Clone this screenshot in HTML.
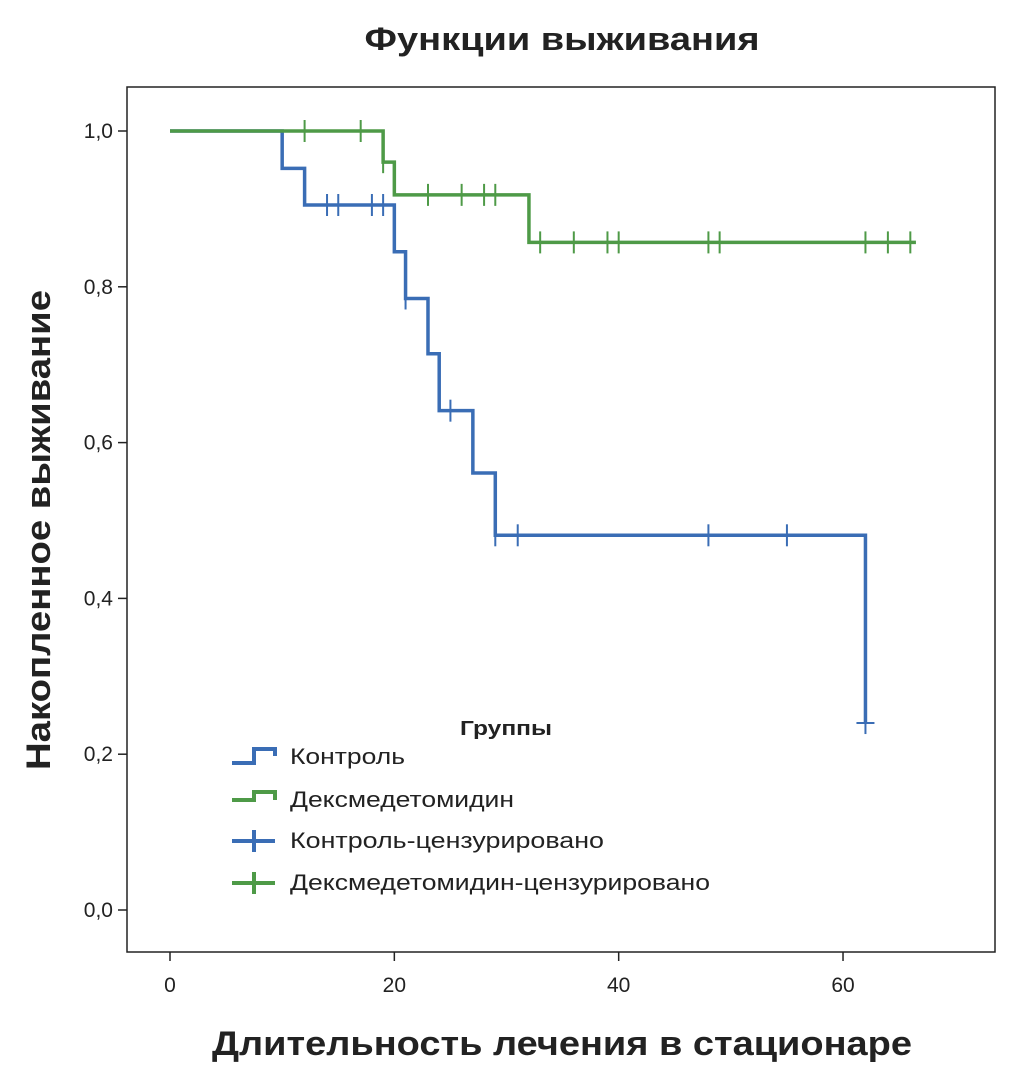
<!DOCTYPE html>
<html><head><meta charset="utf-8"><style>
body{margin:0;background:#fff;}
svg text{font-family:"Liberation Sans",sans-serif;}
</style></head><body>
<svg id="chart" width="1021" height="1080">
<text x="562" y="50" font-size="32" font-weight="bold" text-anchor="middle" fill="#222" textLength="395" lengthAdjust="spacingAndGlyphs">Функции выживания</text>
<rect x="127" y="87" width="868" height="865" fill="none" stroke="#222" stroke-width="1.5"/>
<g id="yaxis"></g>
<g id="xaxis"></g>
<text transform="translate(50,530) rotate(-90)" font-size="34" font-weight="bold" text-anchor="middle" fill="#222" textLength="480" lengthAdjust="spacingAndGlyphs">Накопленное выживание</text>
<text x="562" y="1055" font-size="34" font-weight="bold" text-anchor="middle" fill="#222" textLength="700" lengthAdjust="spacingAndGlyphs">Длительность лечения в стационаре</text>
<g id="series"></g>
<g>
<text x="506" y="735" font-size="20" font-weight="bold" text-anchor="middle" fill="#222" textLength="92" lengthAdjust="spacingAndGlyphs">Группы</text>
<g><path d="M232,763H254V749H275V756" fill="none" stroke="#3a6db5" stroke-width="4"/><text x="290" y="764" font-size="22" fill="#222" textLength="115" lengthAdjust="spacingAndGlyphs">Контроль</text></g>
<g><path d="M232,800H254V792H275V800" fill="none" stroke="#4e9a47" stroke-width="4"/><text x="290" y="807" font-size="22" fill="#222" textLength="224" lengthAdjust="spacingAndGlyphs">Дексмедетомидин</text></g>
<g><path d="M232,841H275M254,830V852" fill="none" stroke="#3a6db5" stroke-width="4"/><text x="290" y="848" font-size="22" fill="#222" textLength="314" lengthAdjust="spacingAndGlyphs">Контроль-цензурировано</text></g>
<g><path d="M232,883H275M254,872V894" fill="none" stroke="#4e9a47" stroke-width="4"/><text x="290" y="890" font-size="22" fill="#222" textLength="420" lengthAdjust="spacingAndGlyphs">Дексмедетомидин-цензурировано</text></g>
</g>
</svg>
<script>
const xTicks=[0,20,40,60];
const yTicks=[0,0.2,0.4,0.6,0.8,1.0];
const yTickLabels=["0,0","0,2","0,4","0,6","0,8","1,0"];
const controlTimes=[0,10,12,20,21,23,24,27,29,62];
const controlSurv=[1.0,0.952,0.905,0.845,0.785,0.714,0.641,0.561,0.481,0.24];
const controlEnd=62;
const controlCensor=[14,15,18,19,21,25,29,31,48,55,62];
const dexTimes=[0,19,20,32];
const dexSurv=[1.0,0.96,0.918,0.857];
const dexEnd=66.5;
const dexCensor=[12,17,19,23,26,28,29,33,36,39,40,48,49,62,64,66];
const X=t=>170+t*11.217, Y=v=>910-v*779;
const NS="http://www.w3.org/2000/svg";
function mk(tag,attrs,parent){const e=document.createElementNS(NS,tag);for(const k in attrs)e.setAttribute(k,attrs[k]);parent.appendChild(e);return e;}
const ya=document.getElementById('yaxis'),xa=document.getElementById('xaxis'),sg=document.getElementById('series');
yTicks.forEach((v,i)=>{
 const l=mk('line',{x1:118,x2:127,y1:Y(v),y2:Y(v),stroke:'#222','stroke-width':1.5},ya);
 
 
 const t=mk('text',{x:113,y:Y(v)+7,'font-size':21,'text-anchor':'end',fill:'#222'},ya);t.textContent=yTickLabels[i];
 
 
});
xTicks.forEach(v=>{
 const l=mk('line',{x1:X(v),x2:X(v),y1:952,y2:961,stroke:'#222','stroke-width':1.5},xa);
 
 
 const t=mk('text',{x:X(v),y:992,'font-size':21,'text-anchor':'middle',fill:'#222'},xa);t.textContent=v;
 
 
});
function survAt(times,surv,t){let s=surv[0];for(let i=0;i<times.length;i++)if(times[i]<=t)s=surv[i];return s;}
function draw(times,surv,end,cens,color,name){
 let d='M'+X(times[0])+','+Y(surv[0]);
 for(let i=1;i<times.length;i++){d+='H'+X(times[i])+'V'+Y(surv[i]);}
 d+='H'+X(end);
 const p=mk('path',{d:d,fill:'none',stroke:color,'stroke-width':3.5},sg);
 
 
 cens.forEach(c=>{
  const y=Y(survAt(times,surv,c));
  const m=mk('line',{x1:X(c),x2:X(c),y1:y-11,y2:y+11,stroke:color,'stroke-width':2},sg);
  
  
 });
}
draw(controlTimes,controlSurv,controlEnd,controlCensor,'#3a6db5','control');
draw(dexTimes,dexSurv,dexEnd,dexCensor,'#4e9a47','dex');
const y0=Y(controlSurv[controlSurv.length-1]);
const h=mk('line',{x1:X(controlEnd)-9,x2:X(controlEnd)+9,y1:y0,y2:y0,stroke:'#3a6db5','stroke-width':2},sg);


</script>
</body></html>
